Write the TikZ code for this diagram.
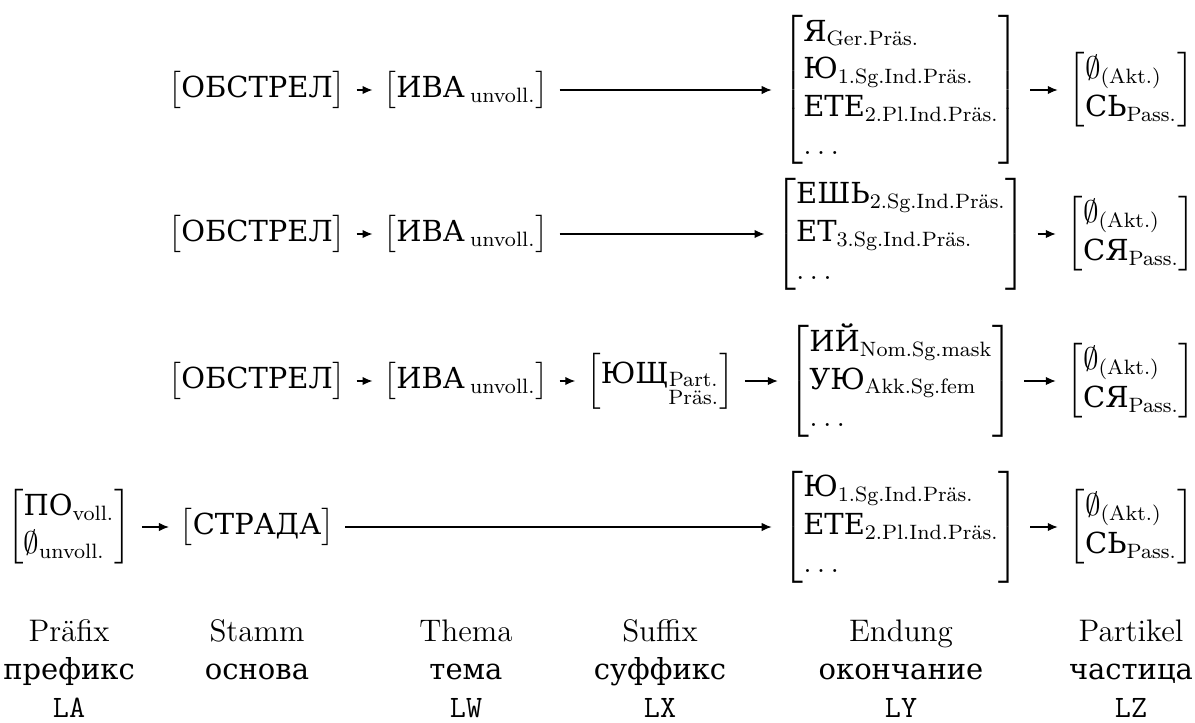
\documentclass[12pt,tikz,border=0pt]{standalone}
\usepackage{amsmath}
\usepackage{fontspec}
\newfontfamily\kyrfont[Scale=0.93]{DejaVu Serif}
\usetikzlibrary{arrows.meta}
\newcommand{\kyr}[1]{\text{\kyrfont #1}}
\newcommand{\kl}[1]{\ensuremath{\left[\begin{array}{@{}l@{}}#1\end{array}\right]}}

\begin{document}
\begin{tikzpicture}[
  x=0.385pt, y=-0.385pt,
  glied/.style={inner sep=4pt},
  beschr/.style={anchor=north,inner sep=0pt,align=center},
  pfeil/.style={-{Latex[length=3.8pt,width=3.2pt]},line width=0.4pt}
]
\useasboundingbox (0,0) rectangle (1195,722);
\node[glied] (st1) at (257,90) {\kl{\kyr{ОБСТРЕЛ}}};
\node[glied] (th1) at (466,90) {\kl{\kyr{ИВА}\,_{\text{unvoll.}}}};
\node[glied] (en1) at (901,90) {\kl{\kyr{Я}_{\text{Ger.Präs.}}\\ \kyr{Ю}_{\text{1.Sg.Ind.Präs.}}\\ \kyr{ЕТЕ}_{\text{2.Pl.Ind.Präs.}}\\ \ldots}};
\node[glied] (pa1) at (1131,90) {\kl{\emptyset_{\text{(Akt.)}}\\ \kyr{СЬ}_{\text{Pass.}}}};
\node[glied] (st2) at (257,234) {\kl{\kyr{ОБСТРЕЛ}}};
\node[glied] (th2) at (466,234) {\kl{\kyr{ИВА}\,_{\text{unvoll.}}}};
\node[glied] (en2) at (901,234) {\kl{\kyr{ЕШЬ}_{\text{2.Sg.Ind.Präs.}}\\ \kyr{ЕТ}_{\text{3.Sg.Ind.Präs.}}\\ \ldots}};
\node[glied] (pa2) at (1131,234) {\kl{\emptyset_{\text{(Akt.)}}\\ \kyr{СЯ}_{\text{Pass.}}}};
\node[glied] (st3) at (257,381) {\kl{\kyr{ОБСТРЕЛ}}};
\node[glied] (th3) at (466,381) {\kl{\kyr{ИВА}\,_{\text{unvoll.}}}};
\node[glied] (su3) at (660,381) {\kl{\kyr{ЮЩ}_{\substack{\text{Part.}\\ \text{Präs.}}}}};
\node[glied] (en3) at (901,381) {\kl{\kyr{ИЙ}_{\text{Nom.Sg.mask}}\\ \kyr{УЮ}_{\text{Akk.Sg.fem}}\\ \ldots}};
\node[glied] (pa3) at (1131,381) {\kl{\emptyset_{\text{(Akt.)}}\\ \kyr{СЯ}_{\text{Pass.}}}};
\node[glied] (pr4) at (69,527) {\kl{\kyr{ПО}_{\text{voll.}}\\ \emptyset_{\text{unvoll.}}}};
\node[glied] (st4) at (257,527) {\kl{\kyr{СТРАДА}}};
\node[glied] (en4) at (901,527) {\kl{\kyr{Ю}_{\text{1.Sg.Ind.Präs.}}\\ \kyr{ЕТЕ}_{\text{2.Pl.Ind.Präs.}}\\ \ldots}};
\node[glied] (pa4) at (1131,527) {\kl{\emptyset_{\text{(Akt.)}}\\ \kyr{СЬ}_{\text{Pass.}}}};
\node[beschr] (lpr) at (69,615) {\strut Präfix\\ \kyr{префикс}\\ \texttt{LA}};
\node[beschr] (lst) at (257,615) {\strut Stamm\\ \kyr{основа}};
\node[beschr] (lth) at (466,615) {\strut Thema\\ \kyr{тема}\\ \texttt{LW}};
\node[beschr] (lsu) at (660,615) {\strut Suffix\\ \kyr{суффикс}\\ \texttt{LX}};
\node[beschr] (len) at (901,615) {\strut Endung\\ \kyr{окончание}\\ \texttt{LY}};
\node[beschr] (lpa) at (1131,615) {\strut Partikel\\ \kyr{частица}\\ \texttt{LZ}};
\foreach \a/\b in {st1/th1,th1/en1,en1/pa1,st2/th2,th2/en2,en2/pa2,st3/th3,th3/su3,su3/en3,en3/pa3,pr4/st4,st4/en4,en4/pa4}
  \draw[pfeil] (\a) -- (\b);
\end{tikzpicture}
\end{document}
